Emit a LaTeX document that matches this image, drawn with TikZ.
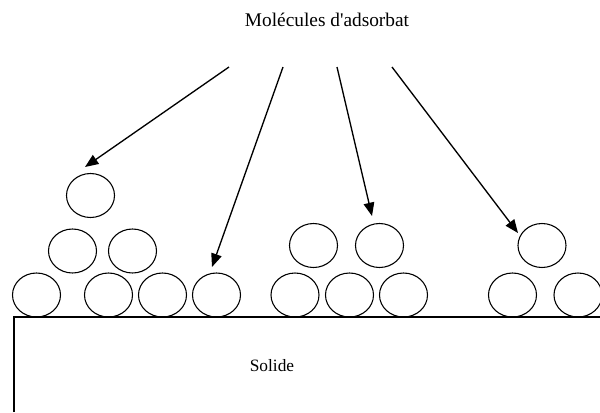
\documentclass[tikz,border=0pt]{standalone}
\usepackage{fontspec}
\setmainfont{Liberation Serif}
\usetikzlibrary{arrows.meta, positioning, shapes.geometric}

\begin{document}
\begin{tikzpicture}[
    x=0.75pt, y=-0.75pt,
    molecule/.style={draw, ellipse, minimum width=36pt, minimum height=33pt, inner sep=0pt, line width=0.8pt},
    flow/.style={-{Triangle[length=10pt, width=8pt]}, line width=1pt},
    surface/.style={line width=0.8pt},
    caption/.style={font=\fontsize{14.5}{17}\selectfont}
]
    \useasboundingbox (0,0) rectangle (600,412);

    \node[caption] (title) at (327,20) {Molécules d\textquotesingle adsorbat};

    % solid surface
    \draw[surface] (14,412) -- (14,317) -- (600,317);
    \node[font=\fontsize{13}{15}\selectfont] (solid) at (272,366) {Solide};

    % left heap
    \foreach \x [count=\i] in {36.5,108.5,162.5,216.5}
        \node[molecule] (a\i) at (\x,295) {};
    \node[molecule] (a5) at (72.5,251) {};
    \node[molecule] (a6) at (132.5,251) {};
    \node[molecule] (a7) at (90.5,195.5) {};

    % middle heap
    \foreach \x [count=\i] in {295,349.5,403.5}
        \node[molecule] (b\i) at (\x,295) {};
    \node[molecule] (b4) at (313.5,245.5) {};
    \node[molecule] (b5) at (379.5,245.5) {};

    % right heap
    \node[molecule] (c1) at (512.5,295) {};
    \node[molecule] (c2) at (578,295) {};
    \node[molecule] (c3) at (542,245.5) {};

    % incoming molecules
    \coordinate (t1) at (229,67);
    \coordinate (t2) at (283,67);
    \coordinate (t3) at (337,67);
    \coordinate (t4) at (392,67);
    \coordinate (h1) at (85,167);
    \coordinate (h2) at (212,267);
    \coordinate (h3) at (372,216);
    \coordinate (h4) at (518,233);
    \foreach \i in {1,...,4}
        \draw[flow] (t\i) -- (h\i);
\end{tikzpicture}
\end{document}
